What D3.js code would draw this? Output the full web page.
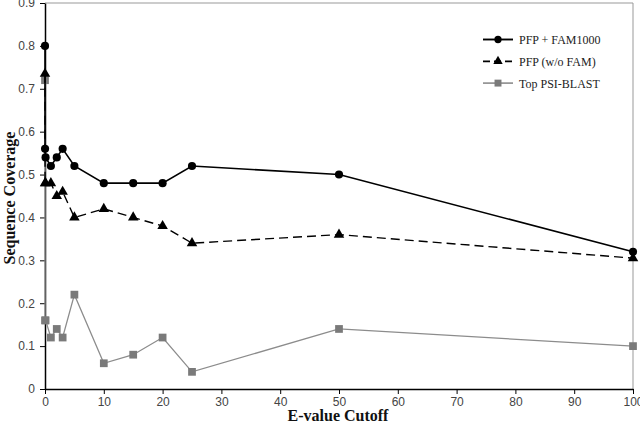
<!DOCTYPE html>
<html><head><meta charset="utf-8">
<script src="https://cdn.jsdelivr.net/npm/d3@7"></script>
<style>body{margin:0;background:#fff}svg{display:block}</style>
</head><body><svg id="c" width="640" height="425"></svg>
<script>
const xValues = [0.001, 0.01, 0.1, 1, 2, 3, 5, 10, 15, 20, 25, 50, 100];
const pfpFam = [0.80, 0.56, 0.54, 0.52, 0.54, 0.56, 0.52, 0.48, 0.48, 0.48, 0.52, 0.50, 0.32];
const pfpNoFam = [0.735, 0.48, 0.48, 0.48, 0.45, 0.46, 0.40, 0.42, 0.40, 0.38, 0.34, 0.36, 0.305];
const topPsi = [0.72, 0.16, 0.16, 0.12, 0.14, 0.12, 0.22, 0.06, 0.08, 0.12, 0.04, 0.14, 0.10];
const seriesNames = ["PFP + FAM1000", "PFP (w/o FAM)", "Top PSI-BLAST"];
const xTicks = [0,10,20,30,40,50,60,70,80,90,100];
const yTicks = [0,0.1,0.2,0.3,0.4,0.5,0.6,0.7,0.8,0.9];

const svg = d3.select("#c");
const L = 45, R = 633, T = 3, B = 389;
const x = d3.scaleLinear().domain([0,100]).range([L,R]);
const y = d3.scaleLinear().domain([0,0.9]).range([B,T]);
const serif = "'Liberation Serif','Times New Roman',serif";
const sans = "'Liberation Sans','DejaVu Sans',sans-serif";

// frame top/right
svg.append("path").attr("d",`M${L},${T}H${R}V${B}`).attr("fill","none").attr("stroke","#999").attr("stroke-width",1);

const gx = svg.append("g").attr("transform",`translate(0,${B})`)
  .call(d3.axisBottom(x).tickValues(xTicks).tickSize(5).tickSizeOuter(0).tickFormat(d3.format("d")));
const gy = svg.append("g").attr("transform",`translate(${L},0)`)
  .call(d3.axisLeft(y).tickValues(yTicks).tickSize(5).tickSizeOuter(0).tickFormat(d=>d===0?"0":d3.format(".1f")(d)));
[gx,gy].forEach(g=>{
  g.select(".domain").attr("stroke","#000").attr("stroke-width",1.5);
  g.selectAll(".tick line").attr("stroke","#000");
  g.selectAll("text").attr("font-family",sans).attr("font-size",12).attr("fill","#444");
});
gy.selectAll("text").attr("dx","-2");

svg.append("text").attr("x",338).attr("y",421).attr("text-anchor","middle")
  .attr("font-family",serif).attr("font-weight","bold").attr("font-size",16).attr("fill","#111").text("E-value Cutoff");
svg.append("text").attr("transform","translate(15,198) rotate(-90)").attr("text-anchor","middle")
  .attr("font-family",serif).attr("font-weight","bold").attr("font-size",16).attr("fill","#111").text("Sequence Coverage");

const line = d3.line().x(d=>x(d[0])).y(d=>y(d[1]));
const configs = [
  {vals: pfpFam, color:"#000", w:1.6, dash:null, sym:d3.symbolCircle, size:52},
  {vals: pfpNoFam, color:"#000", w:1.4, dash:"9,5", sym:d3.symbolTriangle, size:48},
  {vals: topPsi, color:"#8c8c8c", w:1.3, dash:null, sym:d3.symbolSquare, size:60, mcolor:"#7a7a7a"}
];
// draw gray first so black on top
[2,1,0].forEach(i=>{
  const c = configs[i];
  const data = xValues.map((xv,j)=>[xv,c.vals[j]]);
  svg.append("path").datum(data).attr("d",line).attr("fill","none")
    .attr("stroke",c.color).attr("stroke-width",c.w).attr("stroke-dasharray",c.dash);
  svg.selectAll(null).data(data).enter().append("path")
    .attr("transform",d=>`translate(${x(d[0])},${y(d[1])})`)
    .attr("d",d3.symbol().type(c.sym).size(c.size)).attr("fill",c.mcolor||c.color);
});

// legend
const lg = svg.append("g");
configs.forEach((c,i)=>{
  const ly = 39.5 + i*21.8;
  lg.append("line").attr("x1",483).attr("x2",513).attr("y1",ly).attr("y2",ly)
    .attr("stroke",c.color).attr("stroke-width",c.w+0.3).attr("stroke-dasharray",c.dash?"7,4":null);
  lg.append("path").attr("transform",`translate(498,${ly})`)
    .attr("d",d3.symbol().type(c.sym).size(c.size*0.8)).attr("fill",c.mcolor||c.color);
  lg.append("text").attr("x",519).attr("y",ly+4.5).attr("font-family",serif).attr("font-size",12)
    .attr("fill","#222").text(seriesNames[i]);
});
</script></body></html>
